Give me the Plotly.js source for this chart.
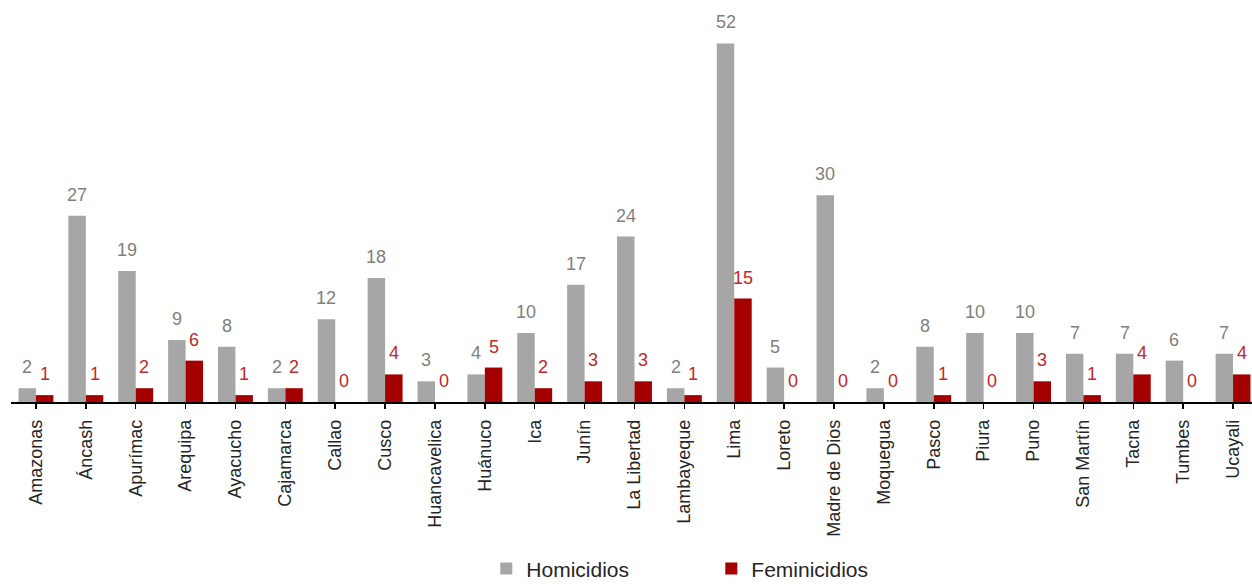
<!DOCTYPE html>
<html>
<head>
<meta charset="utf-8">
<script src="https://cdn.plot.ly/plotly-3.0.1.min.js"></script>
<style>
  html, body { margin: 0; padding: 0; background: #fff; }
  #chart { width: 1252px; height: 584px; }
</style>
</head>
<body>
<div id="chart"></div>
<script>
// Regiones del Perú
const regiones = [
  "Amazonas", "Áncash", "Apurímac", "Arequipa", "Ayacucho", "Cajamarca",
  "Callao", "Cusco", "Huancavelica", "Huánuco", "Ica", "Junín",
  "La Libertad", "Lambayeque", "Lima", "Loreto", "Madre de Dios", "Moquegua",
  "Pasco", "Piura", "Puno", "San Martín", "Tacna", "Tumbes", "Ucayali"
];

const homicidios = [2, 27, 19, 9, 8, 2, 12, 18, 3, 4, 10, 17, 24, 2, 52, 5, 30, 2, 8, 10, 10, 7, 7, 6, 7];
const feminicidios = [1, 1, 2, 6, 1, 2, 0, 4, 0, 5, 2, 3, 3, 1, 15, 0, 0, 0, 1, 0, 3, 1, 4, 0, 4];

const colorGris = "#a6a6a6";
const colorRojo = "#a50000";
const textoGris = "#7f7f7f";
const textoRojo = "#c0282d";

const traces = [
  {
    type: "bar", name: "Homicidios", x: regiones, y: homicidios,
    marker: { color: colorGris }, hoverinfo: "x+y"
  },
  {
    type: "bar", name: "Feminicidios", x: regiones, y: feminicidios,
    marker: { color: colorRojo }, hoverinfo: "x+y"
  }
];

// Etiquetas de valor sobre cada barra
const offset = 0.175;
const fuenteValores = "Liberation Sans, Arial, sans-serif";
const annotations = [];
regiones.forEach((r, i) => {
  annotations.push({
    x: i - offset, y: homicidios[i], xref: "x", yref: "y",
    text: String(homicidios[i]), showarrow: false,
    yanchor: "middle", yshift: 21,
    font: { family: fuenteValores, size: 18, color: textoGris }
  });
  annotations.push({
    x: i + offset, y: feminicidios[i], xref: "x", yref: "y",
    text: String(feminicidios[i]), showarrow: false,
    yanchor: "middle", yshift: 21,
    font: { family: fuenteValores, size: 18, color: textoRojo }
  });
});

const layout = {
  width: 1252, height: 584,
  margin: { l: 11, r: 0, t: 9, b: 182, autoexpand: false },
  paper_bgcolor: "#ffffff", plot_bgcolor: "#ffffff",
  barmode: "group", bargap: 0.3, bargroupgap: 0,
  showlegend: true,
  legend: {
    orientation: "h", x: 0.383, xanchor: "left",
    yref: "container", y: 0.026, yanchor: "middle",
    font: { family: "Liberation Sans, Arial, sans-serif", size: 21, color: "#262626" },
    entrywidth: 180, entrywidthmode: "pixels",
    traceorder: "normal"
  },
  xaxis: {
    type: "category", categoryorder: "array", categoryarray: regiones,
    range: [-0.5, 24.38],
    showline: true, linecolor: "#000", linewidth: 1.5,
    ticks: "outside", ticklen: 5, tickwidth: 1.5, tickcolor: "#000",
    ticklabelstandoff: 4,
    tickangle: -90, showgrid: false, zeroline: false,
    tickfont: { family: "Liberation Sans, Arial, sans-serif", size: 18, color: "#262626" },
    fixedrange: true
  },
  yaxis: {
    range: [0, 57], visible: false, showgrid: false, zeroline: false, fixedrange: true
  },
  annotations: annotations
};

Plotly.newPlot("chart", traces, layout, { displayModeBar: false, staticPlot: true });
</script>
</body>
</html>
